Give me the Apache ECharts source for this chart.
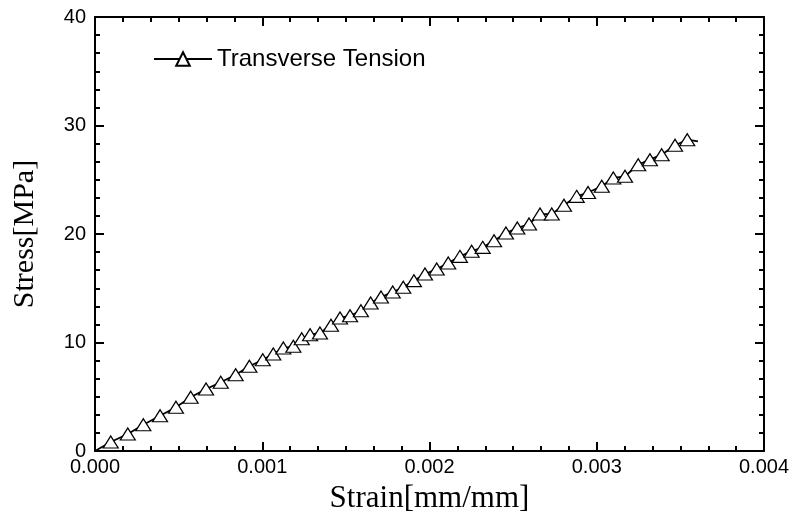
<!DOCTYPE html>
<html>
<head>
<meta charset="utf-8">
<title>Transverse Tension</title>
<script src="https://cdn.jsdelivr.net/npm/echarts@6/dist/echarts.min.js"></script>
<style>
  html, body { margin: 0; padding: 0; background: #fff; }
  #chart { width: 794px; height: 521px; }
</style>
</head>
<body>
<div id="chart"></div>
<script>
// Measured stress-strain record (first and last samples are unmarked line ends)
var strain = [0, 0.000094, 0.000196, 0.000289, 0.000389, 0.000484, 0.000572, 0.000664, 0.000752,
  0.000841, 0.000923, 0.001003, 0.001066, 0.001126, 0.001186, 0.001236, 0.001286, 0.001345,
  0.001411, 0.001465, 0.001525, 0.001590, 0.001648, 0.001710, 0.001780, 0.001843, 0.001907,
  0.001973, 0.002043, 0.002112, 0.002182, 0.002252, 0.002318, 0.002386, 0.002457, 0.002525,
  0.002595, 0.002661, 0.002731, 0.002804, 0.002880, 0.002948, 0.003030, 0.003099, 0.003169,
  0.003248, 0.003318, 0.003388, 0.003468, 0.003541, 0.003605];
var stress = [0, 0.83, 1.57, 2.42, 3.25, 4.03, 4.95, 5.71, 6.33,
  7.03, 7.81, 8.41, 8.94, 9.49, 9.65, 10.35, 10.72, 10.88,
  11.59, 12.26, 12.47, 12.93, 13.64, 14.19, 14.65, 15.09, 15.70,
  16.31, 16.77, 17.33, 17.94, 18.41, 18.77, 19.38, 20.09, 20.55,
  20.92, 21.84, 21.84, 22.65, 23.47, 23.82, 24.40, 25.16, 25.32,
  26.39, 26.85, 27.31, 28.18, 28.69, 28.53];
var seriesName = 'Transverse Tension';
var xTicks = { min: 0, max: 0.004, interval: 0.001 };
var yTicks = { min: 0, max: 40, interval: 10 };

var points = strain.map(function (x, i) {
  var p = { value: [x, stress[i]] };
  if (i === 0 || i === strain.length - 1) p.symbol = 'none';
  return p;
});

var axisCommon = {
  axisLine: { show: true, onZero: false, lineStyle: { color: '#000', width: 2 } },
  axisTick: { show: true, inside: true, length: 9, lineStyle: { color: '#000', width: 2 } },
  minorTick: { show: true, splitNumber: 6, length: 5, lineStyle: { color: '#000', width: 2 } },
  splitLine: { show: false }
};

function axis(base, extra) {
  return Object.assign({}, JSON.parse(JSON.stringify(axisCommon)), base, extra);
}

var sans = 'Liberation Sans, Arial, sans-serif';
var serif = 'Liberation Serif, Times New Roman, serif';

var chart = echarts.init(document.getElementById('chart'), null, { renderer: 'canvas' });
chart.setOption({
  animation: false,
  backgroundColor: '#fff',
  grid: { left: 95, right: 30, top: 17, bottom: 70, containLabel: false },
  legend: {
    left: 148, top: 42,
    itemWidth: 58, itemHeight: 17, itemGap: 10,
    textStyle: { fontFamily: sans, fontSize: 24, color: '#000' },
    data: [seriesName]
  },
  xAxis: [
    axis({ type: 'value', position: 'bottom' }, {
      min: xTicks.min, max: xTicks.max, interval: xTicks.interval,
      name: 'Strain[mm/mm]', nameLocation: 'middle', nameGap: 32,
      nameTextStyle: { fontFamily: serif, fontSize: 31, color: '#000' },
      axisLabel: {
        margin: 6, color: '#000', fontSize: 20, fontFamily: sans,
        formatter: function (v) { return v.toFixed(3); }
      }
    }),
    axis({ type: 'value', position: 'top' }, {
      min: xTicks.min, max: xTicks.max, interval: xTicks.interval,
      axisLabel: { show: false }
    })
  ],
  yAxis: [
    axis({ type: 'value', position: 'left' }, {
      min: yTicks.min, max: yTicks.max, interval: yTicks.interval,
      name: 'Stress[MPa]', nameLocation: 'middle', nameGap: 55,
      nameTextStyle: { fontFamily: serif, fontSize: 30, color: '#000' },
      axisLabel: { margin: 9, color: '#000', fontSize: 20, fontFamily: sans }
    }),
    axis({ type: 'value', position: 'right' }, {
      min: yTicks.min, max: yTicks.max, interval: yTicks.interval,
      axisLabel: { show: false }
    })
  ],
  series: [{
    name: seriesName,
    type: 'line',
    xAxisIndex: 0, yAxisIndex: 0,
    data: points,
    symbol: 'triangle',
    symbolSize: [15, 12],
    showAllSymbol: true,
    lineStyle: { color: '#000', width: 1.8 },
    itemStyle: { color: '#fff', borderColor: '#000', borderWidth: 1.2 },
    emphasis: { disabled: true },
    z: 3
  }]
});
</script>
</body>
</html>
